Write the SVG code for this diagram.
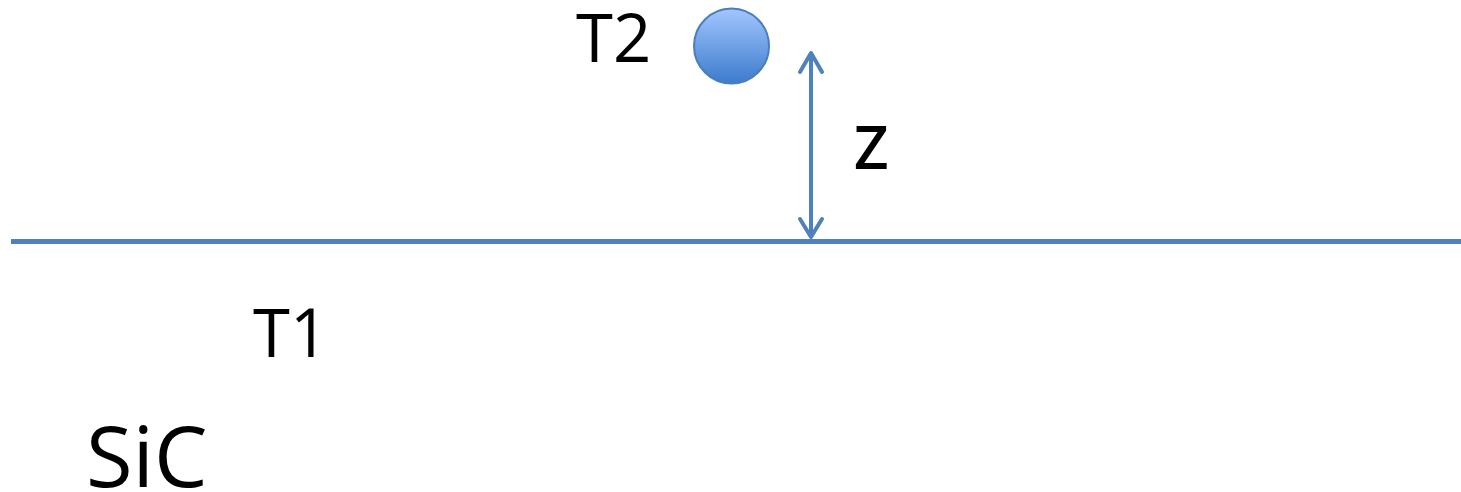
<svg xmlns="http://www.w3.org/2000/svg" width="1461" height="492" viewBox="0 0 1461 492">
<style>
.lbl{font-family:"Open Sans","Liberation Sans",sans-serif;fill:#000}
.blue{stroke:#4f81bd;fill:none}
</style>
<defs>
<linearGradient id="g" x1="0" y1="0" x2="0" y2="1">
<stop offset="0" stop-color="#a3c6ff"/>
<stop offset="1" stop-color="#3c7bcc"/>
</linearGradient>
</defs>
<rect width="1461" height="492" fill="#fff"/>
<g id="surface">
<line class="blue" x1="11" y1="241.5" x2="1461" y2="241.5" stroke-width="5"/>
</g>
<g id="particle">
<circle cx="731.5" cy="46" r="37.5" fill="url(#g)" stroke="#4a7ebb" stroke-width="2"/>
</g>
<g id="connectors">
<line class="blue" x1="811" y1="53" x2="811" y2="237" stroke-width="4"/>
<polyline class="blue" points="800,72 811,53 822,72" stroke-width="4" stroke-linecap="round" stroke-linejoin="round"/>
<polyline class="blue" points="800,219 811,237 822,219" stroke-width="4" stroke-linecap="round" stroke-linejoin="round"/>
</g>
<g id="labels">
<text class="lbl" x="576" y="62" font-size="67">T2</text>
<text class="lbl" x="854" y="169" font-size="60" font-weight="600">Z</text>
<text class="lbl" x="253" y="357" font-size="67">T1</text>
<text class="lbl" x="86" y="487" font-size="85">SiC</text>
</g>
</svg>
